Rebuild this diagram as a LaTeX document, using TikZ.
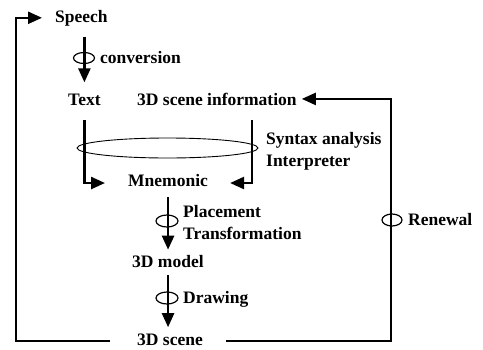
\documentclass[tikz,border=0pt]{standalone}
\usepackage{fontspec}
\setmainfont{Liberation Serif}
\usetikzlibrary{arrows.meta,shapes.geometric}
\begin{document}
\begin{tikzpicture}[x=1pt,y=-1pt,
  lbl/.style={font=\fontsize{17.5}{20}\selectfont\bfseries, inner sep=0pt, anchor=base west},
  flow/.style={line width=2.4pt, line join=miter, -{Triangle[length=14pt,width=12pt]}},
  ring/.style={draw, ellipse, line width=1.2pt, inner sep=0pt, minimum width=21pt, minimum height=11pt}]
\useasboundingbox (0,0) rectangle (483,349);

% stages of the pipeline
\node[lbl] (speech) at (55,22)  {Speech};
\node[lbl] (text)   at (68,105) {Text};
\node[lbl] (info)   at (137,105) {3D scene information};
\node[lbl] (mnem)   at (128,186) {Mnemonic};
\node[lbl] (model)  at (132,267) {3D model};
\node[lbl] (scene)  at (137,345) {3D scene};

% process labels
\node[lbl] (conv)   at (100,63)  {conversion};
\node[lbl] (syn)    at (266,144) {Syntax analysis};
\node[lbl] (interp) at (266,166) {Interpreter};
\node[lbl] (place)  at (183,217) {Placement};
\node[lbl] (trans)  at (183,239) {Transformation};
\node[lbl] (drawl)  at (183,303) {Drawing};
\node[lbl] (renew)  at (408,225) {Renewal};

% speech -> text
\draw[flow, shorten <=11pt, shorten >=11pt] (text.north |- speech.south) -- (text.north);
\node[ring] (convring) at (84,58) {};

% syntax analysis / interpreter
\coordinate (synR) at (252,120);
\draw[flow] ([yshift=-15pt]text.south) |- ([xshift=-23pt,yshift=-3pt]mnem.west);
\draw[flow] (synR) |- ([xshift=22pt,yshift=-3pt]mnem.east);
\node[ring, line width=0.9pt, minimum width=181pt, minimum height=20pt] (parse) at (167.5,148) {};

% mnemonic -> 3D model
\draw[flow, shorten <=11pt, shorten >=5pt] (mnem.south) -- (mnem.south |- model.north);
\node[ring, minimum width=22pt, minimum height=12pt] (placering) at (167,221) {};

% 3D model -> 3D scene
\draw[flow, shorten <=8pt, shorten >=6pt] (mnem.south |- model.south) -- (mnem.south |- scene.north);
\node[ring, minimum width=22pt, minimum height=12pt] (drawring) at (167,298) {};

% feedback loops
\draw[flow] ([xshift=-27pt,yshift=-2pt]scene.west) -| ([xshift=-39pt]speech.west) -- ([xshift=-13pt]speech.west);
\draw[flow] ([xshift=23pt,yshift=-2pt]scene.east) -| ([xshift=94pt]info.east) -- ([xshift=5pt]info.east);
\node[ring, minimum width=20pt, minimum height=12pt] (renewring) at (392,220) {};
\end{tikzpicture}
\end{document}
